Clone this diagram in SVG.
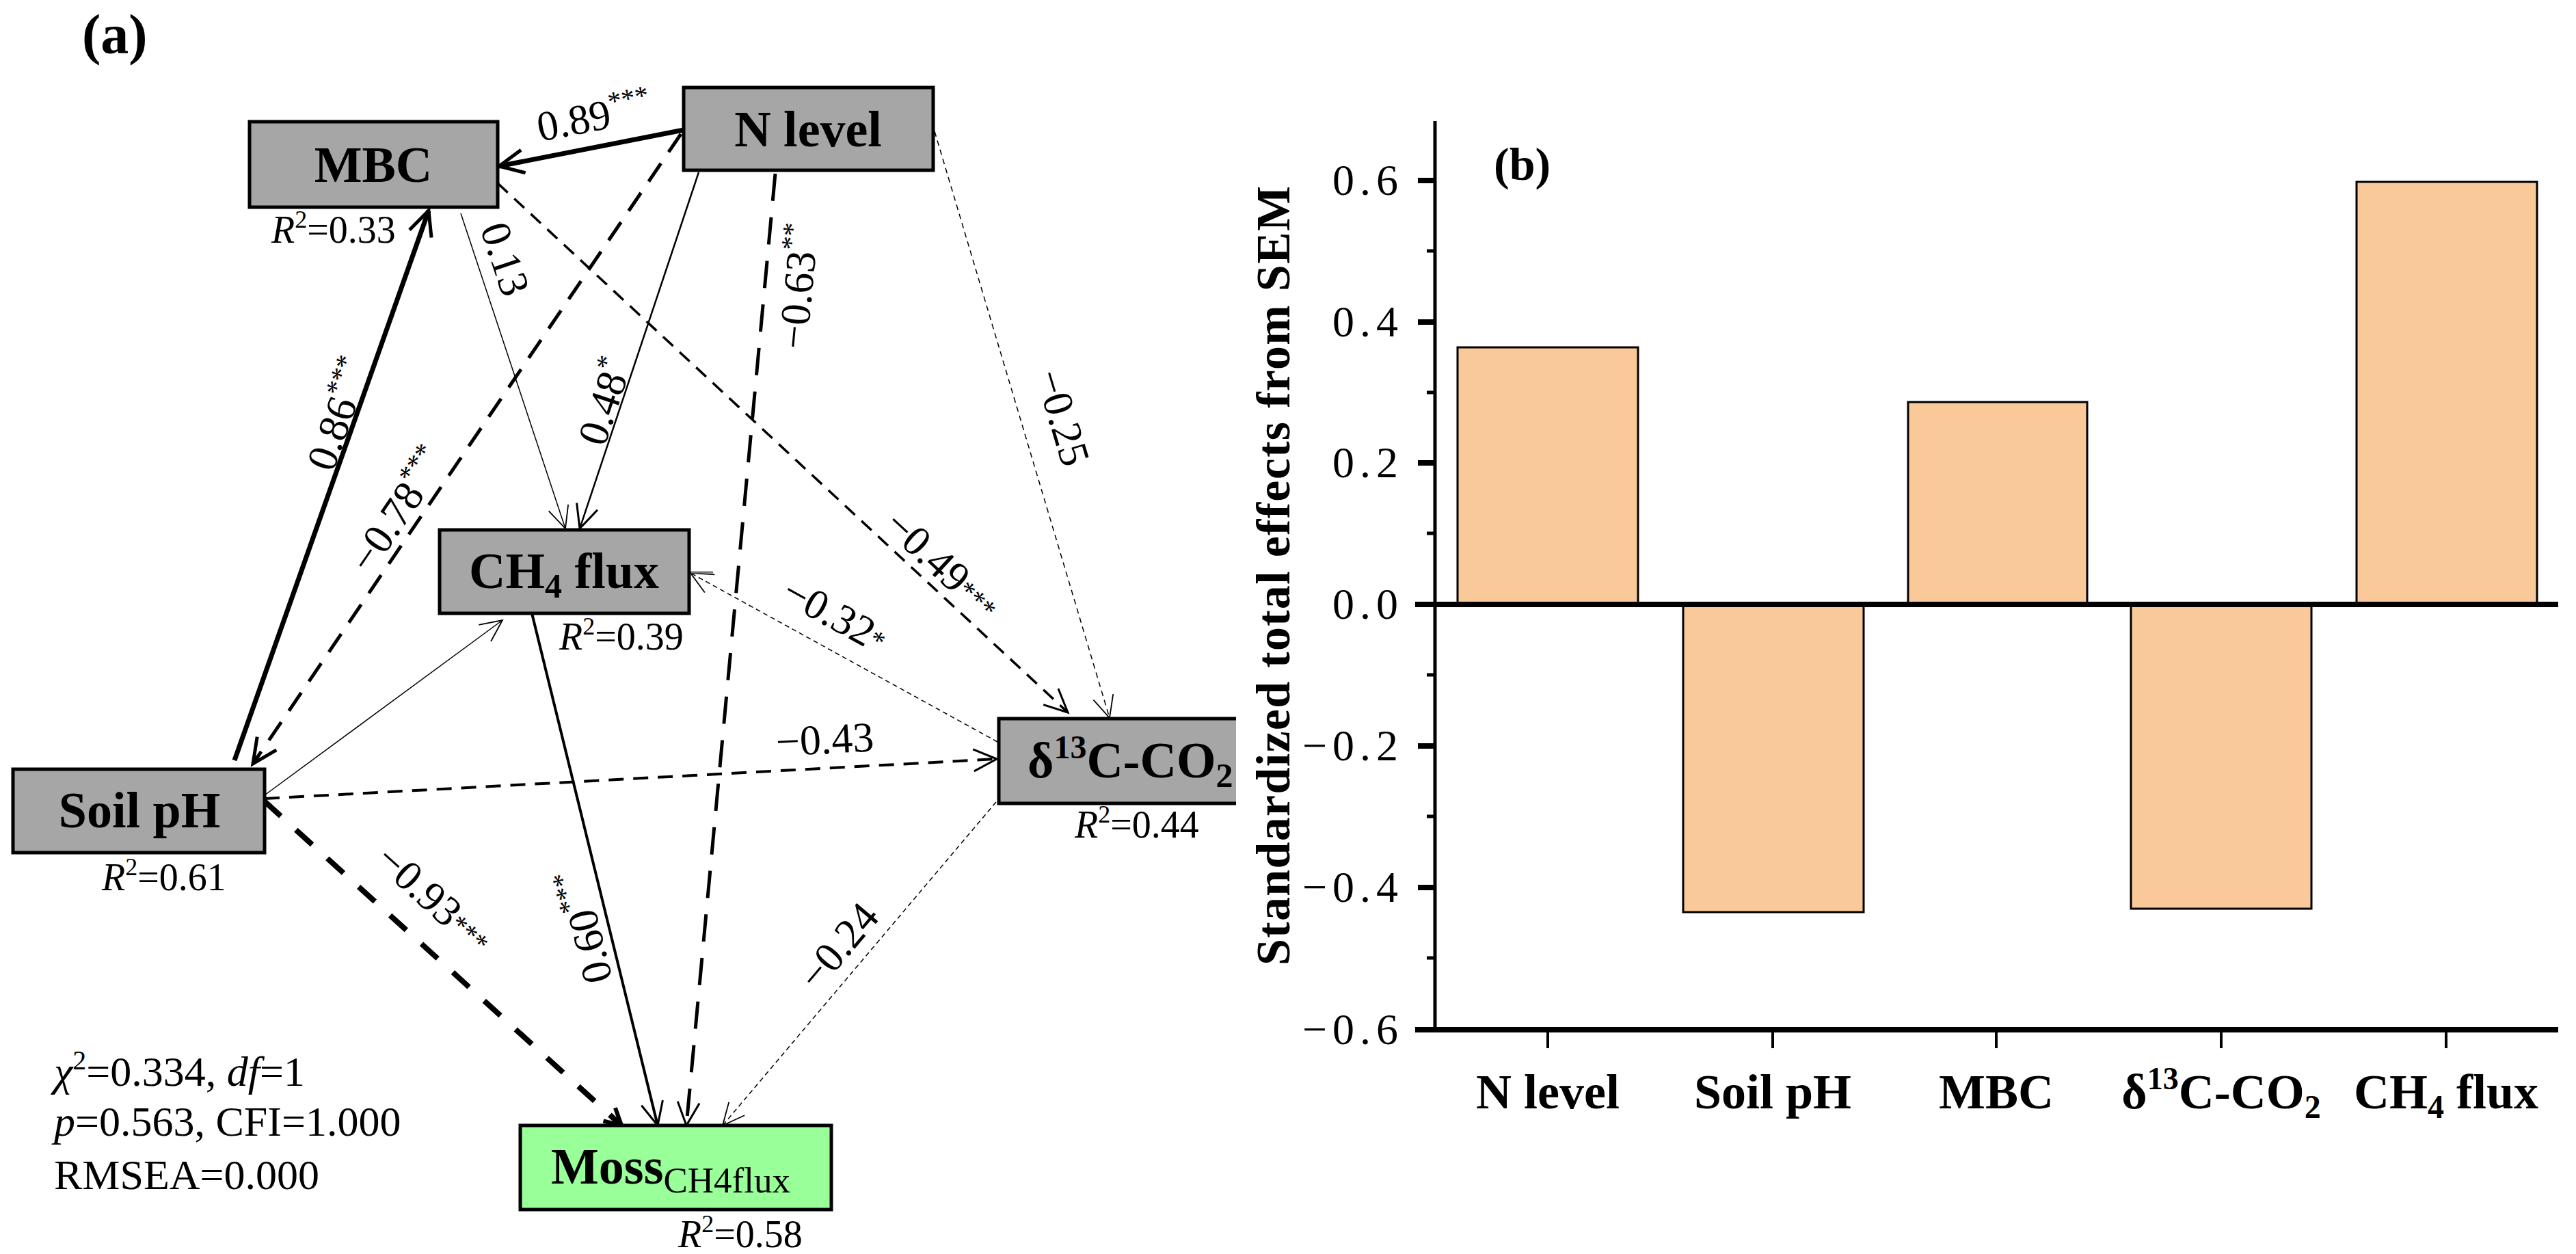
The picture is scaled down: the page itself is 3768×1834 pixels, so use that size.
<svg xmlns="http://www.w3.org/2000/svg" width="3768" height="1834" viewBox="0 0 3768 1834">
<defs>
<style>
.node{stroke:#000;stroke-width:5}
.gray{fill:#A6A6A6}
.nt{font-family:"Liberation Serif",serif;font-weight:bold;font-size:74px;fill:#000}
.r2{font-family:"Liberation Serif",serif;font-size:56px;fill:#000}
.el{font-family:"Liberation Serif",serif;font-size:62px;fill:#000}
.st{font-size:40px}
.e{fill:none;stroke:#000}
.stats{font-family:"Liberation Serif",serif;font-size:62px;fill:#000}
.tick{font-family:"Liberation Serif",serif;font-size:64px;fill:#000;letter-spacing:8px}
.xl{font-family:"Liberation Serif",serif;font-weight:bold;font-size:72px;fill:#000}
.bar{fill:#FAC999;stroke:#000;stroke-width:3}
.ax{stroke:#000;fill:none}
</style>
<marker id="ahThick" markerUnits="userSpaceOnUse" orient="auto" refX="0" refY="0" markerWidth="80" markerHeight="80" viewBox="-60 -40 80 80" overflow="visible">
<path d="M-36,-17 L0,0 L-36,17" fill="none" stroke="#000" stroke-width="5"/>
</marker>
<marker id="ahMed" markerUnits="userSpaceOnUse" orient="auto" refX="0" refY="0" markerWidth="80" markerHeight="80" viewBox="-60 -40 80 80" overflow="visible">
<path d="M-34,-16 L0,0 L-34,16" fill="none" stroke="#000" stroke-width="3"/>
</marker>
<marker id="ahThin" markerUnits="userSpaceOnUse" orient="auto" refX="0" refY="0" markerWidth="80" markerHeight="80" viewBox="-60 -40 80 80" overflow="visible">
<path d="M-32,-15 L0,0 L-32,15" fill="none" stroke="#000" stroke-width="1.8"/>
</marker>
<marker id="ahStub" markerUnits="userSpaceOnUse" orient="auto" refX="0" refY="0" markerWidth="80" markerHeight="80" viewBox="-60 -40 80 80" overflow="visible">
<path d="M-24,-13 L0,0 L-24,13" fill="none" stroke="#000" stroke-width="6"/>
</marker>
</defs>
<rect width="3768" height="1834" fill="#fff"/>

<!-- panel (a) -->
<text x="120" y="78" font-family="Liberation Serif, serif" font-weight="bold" font-size="82">(a)</text>

<g id="connectors">
<path id="e_nl_mbc" class="e" d="M1000,190 L730,243" stroke-width="7" marker-end="url(#ahThick)"/>
<path id="e_ph_mbc" class="e" d="M343,1112 L627,308" stroke-width="7" marker-end="url(#ahThick)"/>
<path id="e_nl_ph" class="e" d="M996,196 L370,1117" stroke-width="5" stroke-dasharray="32 20" marker-end="url(#ahThick)"/>
<path id="e_mbc_ch4" class="e" d="M674,312 L827,773" stroke-width="1.5" marker-end="url(#ahThin)"/>
<path id="e_nl_ch4" class="e" d="M1022,252 L848,773" stroke-width="2.5" marker-end="url(#ahMed)"/>
<path id="e_nl_moss" class="e" d="M1134,254 L1004,1646" stroke-width="5" stroke-dasharray="40 24" marker-end="url(#ahMed)"/>
<path id="e_nl_d13" class="e" d="M1367,192 L1623,1050" stroke-width="1.5" stroke-dasharray="8 6" marker-end="url(#ahThin)"/>
<path id="e_mbc_d13" class="e" d="M728,268 L1562,1042" stroke-width="3.5" stroke-dasharray="20 13" marker-end="url(#ahMed)"/>
<path id="e_d13_ch4" class="e" d="M1459,1085 L1010,838" stroke-width="1.5" stroke-dasharray="7 5" marker-end="url(#ahThin)"/>
<path id="e_ph_ch4" class="e" d="M387,1163 L735,907" stroke-width="1.5" marker-end="url(#ahThin)"/>
<path id="e_ph_d13" class="e" d="M387,1168 L1458,1110" stroke-width="4" stroke-dasharray="22 14" marker-end="url(#ahMed)"/>
<path id="e_ph_moss" class="e" d="M387,1172 L909,1646" stroke-width="8" stroke-dasharray="32 30" marker-end="url(#ahStub)"/>
<path id="e_ch4_moss" class="e" d="M778,897 L962,1646" stroke-width="4" marker-end="url(#ahMed)"/>
<path id="e_d13_moss" class="e" d="M1457,1173 L1057,1646" stroke-width="1.5" stroke-dasharray="7 5" marker-end="url(#ahThin)"/>
<line x1="1010" y1="837" x2="1043" y2="837" stroke="#777" stroke-width="3"/>
</g>

<g id="edge-labels">
<text class="el" transform="translate(790,207) rotate(-11)">0.89<tspan class="st" dy="-24">***</tspan></text>
<text class="el" transform="translate(487,692) rotate(-70.5)">0.86<tspan class="st" dy="-24">***</tspan></text>
<text class="el" transform="translate(542,842) rotate(-55.8)">−0.78<tspan class="st" dy="-24">***</tspan></text>
<text class="el" transform="translate(702,334) rotate(71.6)">0.13</text>
<text class="el" transform="translate(884,655) rotate(-71.5)">0.48<tspan class="st" dy="-24">*</tspan></text>
<text class="el" transform="translate(1180,512) rotate(-84.7)">−0.63<tspan class="st" dy="-24">**</tspan></text>
<text class="el" transform="translate(1514,548) rotate(73.4)">−0.25</text>
<text class="el" transform="translate(1290,772) rotate(42.9)">−0.49<tspan class="st" dy="-4">***</tspan></text>
<text class="el" transform="translate(1140,878) rotate(28.8)">−0.32<tspan class="st" dy="-4">*</tspan></text>
<text class="el" transform="translate(1136,1106) rotate(-3.1)">−0.43</text>
<text class="el" transform="translate(546,1262) rotate(42.2)">−0.93<tspan class="st" dy="-4">***</tspan></text>
<text class="el" transform="translate(896,1432) rotate(-103.8)">0.60<tspan class="st" dy="-24">***</tspan></text>
<text class="el" transform="translate(1196,1452) rotate(-49.8)">−0.24</text>
</g>

<g id="node-mbc">
<rect class="node gray" x="365" y="178" width="363" height="125"/>
<text class="nt" x="546" y="266" text-anchor="middle">MBC</text>
<text class="r2" x="397" y="355"><tspan font-style="italic">R</tspan><tspan font-size="36" dy="-22">2</tspan><tspan dy="22">=0.33</tspan></text>
</g>

<g id="node-nlevel">
<rect class="node gray" x="1000" y="128" width="365" height="121"/>
<text class="nt" x="1182" y="214" text-anchor="middle">N level</text>
</g>

<g id="node-ch4">
<rect class="node gray" x="643" y="775" width="365" height="122"/>
<text class="nt" x="825" y="860" text-anchor="middle">CH<tspan font-size="50" dy="14">4</tspan><tspan dy="-14"> flux</tspan></text>
<text class="r2" x="818" y="950"><tspan font-style="italic">R</tspan><tspan font-size="36" dy="-22">2</tspan><tspan dy="22">=0.39</tspan></text>
</g>

<g id="node-soilph">
<rect class="node gray" x="19" y="1125" width="368" height="122"/>
<text class="nt" x="204" y="1210" text-anchor="middle">Soil pH</text>
<text class="r2" x="149" y="1302"><tspan font-style="italic">R</tspan><tspan font-size="36" dy="-22">2</tspan><tspan dy="22">=0.61</tspan></text>
</g>

<g id="node-d13c">
<rect class="gray" x="1461" y="1051" width="347" height="124"/>
<path d="M1808,1051 L1461,1051 L1461,1175 L1808,1175" fill="none" stroke="#000" stroke-width="5"/>
<text class="nt" x="1503" y="1137">δ<tspan font-size="48" dy="-28">13</tspan><tspan dy="28">C-CO</tspan><tspan font-size="50" dy="14">2</tspan></text>
<text class="r2" x="1572" y="1225"><tspan font-style="italic">R</tspan><tspan font-size="36" dy="-22">2</tspan><tspan dy="22">=0.44</tspan></text>
</g>

<g id="node-moss">
<rect class="node" fill="#99FF99" x="761" y="1646" width="455" height="123"/>
<text class="nt" x="806" y="1731">Moss<tspan font-weight="normal" font-size="53" dy="13">CH4flux</tspan></text>
<text class="r2" x="992" y="1824"><tspan font-style="italic">R</tspan><tspan font-size="36" dy="-22">2</tspan><tspan dy="22">=0.58</tspan></text>
</g>

<g id="fit-stats">
<text class="stats" x="79" y="1588"><tspan font-style="italic">χ</tspan><tspan font-size="40" dy="-24">2</tspan><tspan dy="24">=0.334, </tspan><tspan font-style="italic">df</tspan>=1</text>
<text class="stats" x="79" y="1661"><tspan font-style="italic">p</tspan>=0.563, CFI=1.000</text>
<text class="stats" x="79" y="1739">RMSEA=0.000</text>
</g>

<!-- panel (b) -->
<g id="chart-b">
<rect class="bar" x="2132" y="508" width="264" height="376"/>
<rect class="bar" x="2462" y="884" width="264" height="450"/>
<rect class="bar" x="2791" y="588" width="262" height="296"/>
<rect class="bar" x="3117" y="884" width="264" height="445"/>
<rect class="bar" x="3447" y="266" width="264" height="618"/>
<line class="ax" x1="2099" y1="177" x2="2099" y2="1506" stroke-width="5"/>
<line class="ax" x1="2070" y1="884" x2="3742" y2="884" stroke-width="8"/>
<line class="ax" x1="2070" y1="1506" x2="3742" y2="1506" stroke-width="8"/>
<path class="ax" stroke-width="8" d="M2074,264 H2099 M2074,471 H2099 M2074,677 H2099 M2074,1091 H2099 M2074,1298 H2099"/>
<path class="ax" stroke-width="5" d="M2087,367 H2099 M2087,574 H2099 M2087,780 H2099 M2087,987 H2099 M2087,1194 H2099 M2087,1401 H2099"/>
<path class="ax" stroke-width="4" d="M2264,1506 V1533 M2593,1506 V1533 M2920,1506 V1533 M3249,1506 V1533 M3578,1506 V1533"/>
<text class="tick" x="2053" y="285" text-anchor="end">0.6</text>
<text class="tick" x="2053" y="492" text-anchor="end">0.4</text>
<text class="tick" x="2053" y="698" text-anchor="end">0.2</text>
<text class="tick" x="2053" y="905" text-anchor="end">0.0</text>
<text class="tick" x="2053" y="1112" text-anchor="end">−0.2</text>
<text class="tick" x="2053" y="1319" text-anchor="end">−0.4</text>
<text class="tick" x="2053" y="1527" text-anchor="end">−0.6</text>
<text class="xl" x="2264" y="1621" text-anchor="middle">N level</text>
<text class="xl" x="2593" y="1621" text-anchor="middle">Soil pH</text>
<text class="xl" x="2920" y="1621" text-anchor="middle">MBC</text>
<text class="xl" x="3249" y="1621" text-anchor="middle">δ<tspan font-size="46" dy="-28">13</tspan><tspan dy="28">C-CO</tspan><tspan font-size="48" dy="14">2</tspan></text>
<text class="xl" x="3578" y="1621" text-anchor="middle">CH<tspan font-size="48" dy="14">4</tspan><tspan dy="-14"> flux</tspan></text>
<text x="2185" y="263" font-family="Liberation Serif, serif" font-weight="bold" font-size="68">(b)</text>
<text transform="translate(1886,842) rotate(-90)" text-anchor="middle" font-family="Liberation Serif, serif" font-weight="bold" font-size="70" textLength="1140" lengthAdjust="spacing">Standardized total effects from SEM</text>
</g>
</svg>
